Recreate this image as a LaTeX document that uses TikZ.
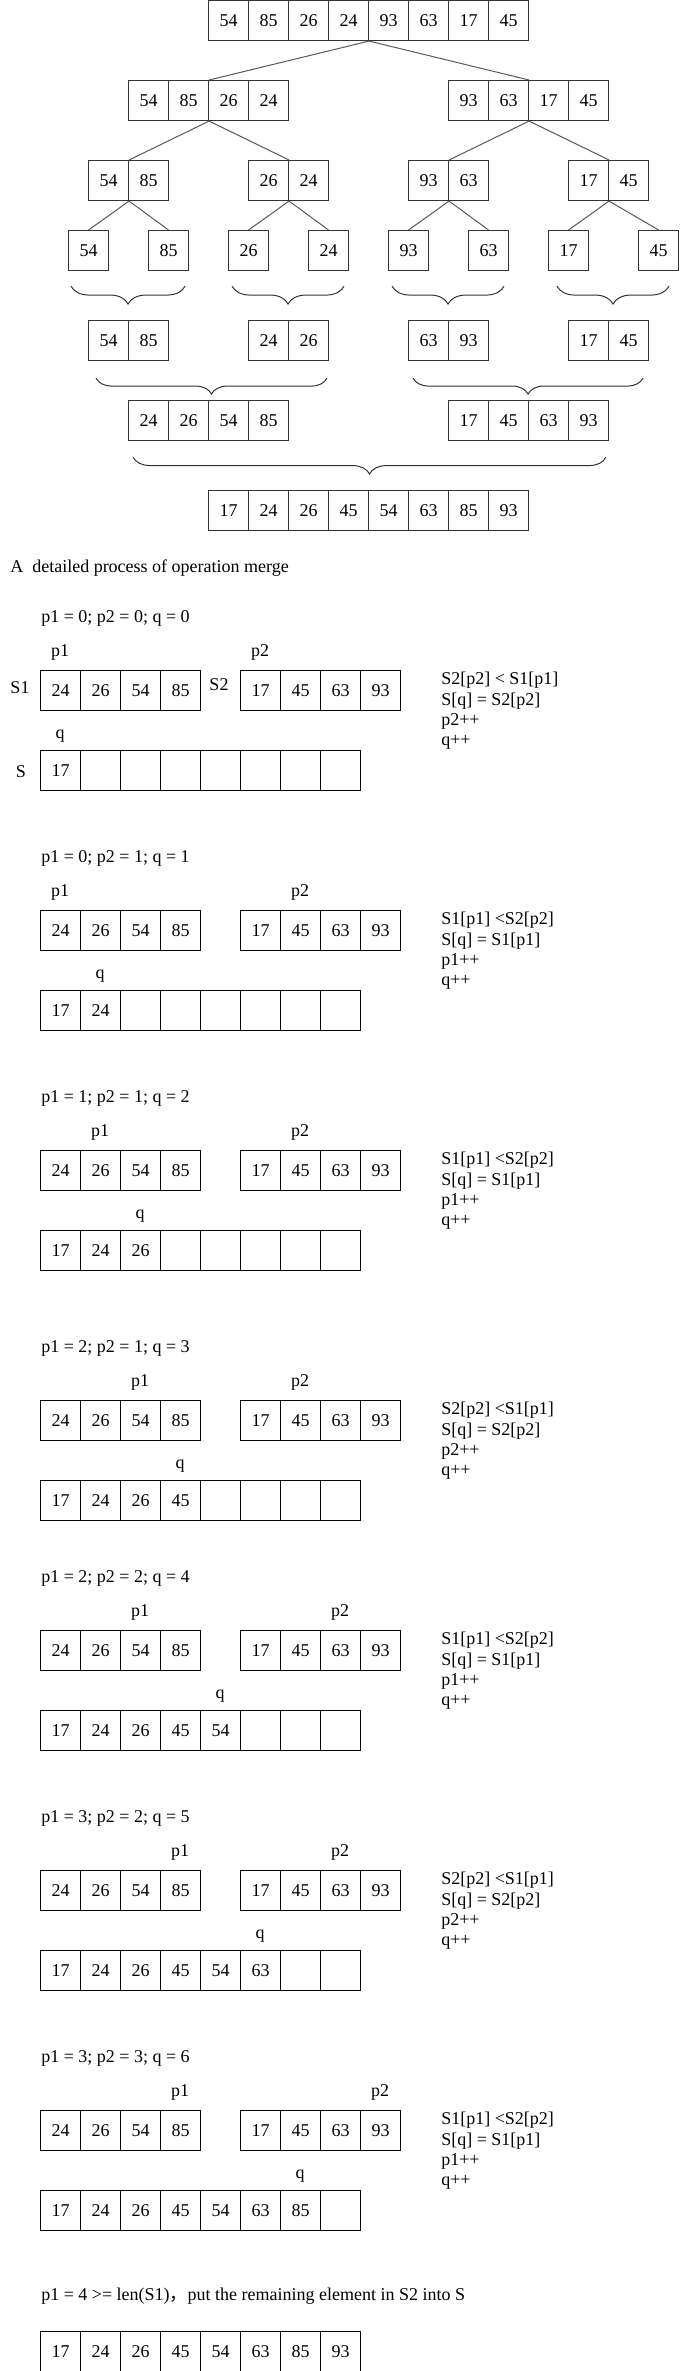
\documentclass[tikz,border=0pt]{standalone}
\usepackage{fontspec}
\setmainfont{Liberation Serif}
\newfontfamily\cjkfont{Noto Sans CJK SC}
\usetikzlibrary{decorations.pathreplacing}

\begin{document}
\begin{tikzpicture}[x=0.75pt, y=-0.75pt,
font=\fontsize{13.5}{16}\selectfont,
cell/.style = {draw, line width=0.85pt, minimum width=30pt, minimum height=30pt, inner sep=0, anchor=north west},
treecell/.style = {cell, draw=black!80, line width=0.8pt},
word/.style = {inner sep=0, anchor=base west},
pointer/.style = {inner sep=0, anchor=base},
branch/.style = {draw=black!65, line width=0.75pt},
merge/.style = {draw=black!80, line width=0.75pt, decorate, decoration={brace, mirror, amplitude=#1}}]
\useasboundingbox (0,0) rectangle (679,2371);

% splitting
\foreach \v [count=\k] in {54,85,26,24,93,63,17,45}
	\node[treecell] (root\k) at ({208+40*(\k-1)},0) {\v};
\foreach \v [count=\k] in {54,85,26,24}
	\node[treecell] (lefthalf\k) at ({128+40*(\k-1)},80) {\v};
\foreach \v [count=\k] in {93,63,17,45}
	\node[treecell] (righthalf\k) at ({448+40*(\k-1)},80) {\v};
\foreach \v [count=\k] in {54,85} \node[treecell] (pairone\k) at ({88+40*(\k-1)},160) {\v};
\foreach \v [count=\k] in {26,24} \node[treecell] (pairtwo\k) at ({248+40*(\k-1)},160) {\v};
\foreach \v [count=\k] in {93,63} \node[treecell] (pairthree\k) at ({408+40*(\k-1)},160) {\v};
\foreach \v [count=\k] in {17,45} \node[treecell] (pairfour\k) at ({568+40*(\k-1)},160) {\v};
\foreach \v/\x [count=\k] in {54/68,85/148,26/228,24/308,93/388,63/468,17/548,45/638}
	\node[treecell] (leaf\k) at (\x,230) {\v};

\draw[branch] (root4.south east) -- (lefthalf2.north east);
\draw[branch] (root4.south east) -- (righthalf2.north east);
\draw[branch] (lefthalf2.south east) -- (pairone1.north east);
\draw[branch] (lefthalf2.south east) -- (pairtwo1.north east);
\draw[branch] (righthalf2.south east) -- (pairthree1.north east);
\draw[branch] (righthalf2.south east) -- (pairfour1.north east);
\draw[branch] (pairone1.south east) -- (leaf1.north);
\draw[branch] (pairone1.south east) -- (leaf2.north);
\draw[branch] (pairtwo1.south east) -- (leaf3.north);
\draw[branch] (pairtwo1.south east) -- (leaf4.north);
\draw[branch] (pairthree1.south east) -- (leaf5.north);
\draw[branch] (pairthree1.south east) -- (leaf6.north);
\draw[branch] (pairfour1.south east) -- (leaf7.north);
\draw[branch] (pairfour1.south east) -- (leaf8.north);

% merging
\draw[merge=13.5pt] ([shift={(3,15)}]leaf1.south west) -- ([shift={(-4,15)}]leaf2.south east);
\draw[merge=13.5pt] ([shift={(4,15)}]leaf3.south west) -- ([shift={(-5,15)}]leaf4.south east);
\draw[merge=13.5pt] ([shift={(4,15)}]leaf5.south west) -- ([shift={(-5,15)}]leaf6.south east);
\draw[merge=13.5pt] ([shift={(9,15)}]leaf7.south west) -- ([shift={(-10,15)}]leaf8.south east);
\foreach \v [count=\k] in {54,85} \node[treecell] (sortedone\k) at ({88+40*(\k-1)},320) {\v};
\foreach \v [count=\k] in {24,26} \node[treecell] (sortedtwo\k) at ({248+40*(\k-1)},320) {\v};
\foreach \v [count=\k] in {63,93} \node[treecell] (sortedthree\k) at ({408+40*(\k-1)},320) {\v};
\foreach \v [count=\k] in {17,45} \node[treecell] (sortedfour\k) at ({568+40*(\k-1)},320) {\v};
\draw[merge=12pt] ([shift={(8,17)}]sortedone1.south west) -- ([shift={(-2,17)}]sortedtwo2.south east);
\draw[merge=12pt] ([shift={(5,17)}]sortedthree1.south west) -- ([shift={(-6,17)}]sortedfour2.south east);
\foreach \v [count=\k] in {24,26,54,85}
	\node[treecell] (sortedleft\k) at ({128+40*(\k-1)},400) {\v};
\foreach \v [count=\k] in {17,45,63,93}
	\node[treecell] (sortedright\k) at ({448+40*(\k-1)},400) {\v};
\draw[merge=12.75pt] ([shift={(5,16)}]sortedleft1.south west) -- ([shift={(-3,16)}]sortedright4.south east);
\foreach \v [count=\k] in {17,24,26,45,54,63,85,93}
	\node[treecell] (sortedall\k) at ({208+40*(\k-1)},490) {\v};

% operation merge, step by step
\node[word] (title) at (10,572) {A\ \ detailed process of operation merge};
\foreach \stepy/\pa/\pb/\pq/\hdr/\noteone/\notetwo/\notethree [count=\s] in {
	670/0/0/0/{p1 = 0; p2 = 0; q = 0}/{S2[p2] < S1[p1]}/{S[q] = S2[p2]}/{p2++},
	910/0/1/1/{p1 = 0; p2 = 1; q = 1}/{S1[p1] <S2[p2]}/{S[q] = S1[p1]}/{p1++},
	1150/1/1/2/{p1 = 1; p2 = 1; q = 2}/{S1[p1] <S2[p2]}/{S[q] = S1[p1]}/{p1++},
	1400/2/1/3/{p1 = 2; p2 = 1; q = 3}/{S2[p2] <S1[p1]}/{S[q] = S2[p2]}/{p2++},
	1630/2/2/4/{p1 = 2; p2 = 2; q = 4}/{S1[p1] <S2[p2]}/{S[q] = S1[p1]}/{p1++},
	1870/3/2/5/{p1 = 3; p2 = 2; q = 5}/{S2[p2] <S1[p1]}/{S[q] = S2[p2]}/{p2++},
	2110/3/3/6/{p1 = 3; p2 = 3; q = 6}/{S1[p1] <S2[p2]}/{S[q] = S1[p1]}/{p1++}} {
	\node[word] (header\s) at (41,{\stepy-48}) {\hdr};
	\foreach \v [count=\k] in {24,26,54,85}
		\node[cell] (sonecell\s\k) at ({40+40*(\k-1)},\stepy) {\v};
	\foreach \v [count=\k] in {17,45,63,93}
		\node[cell] (stwocell\s\k) at ({240+40*(\k-1)},\stepy) {\v};
	\foreach \v [count=\k] in {17,24,26,45,54,63,85,93}
		\node[cell] (scell\s\k) at ({40+40*(\k-1)},{\stepy+80}) {\ifnum\k>\numexpr\pq+1\relax\else\v\fi};
	\node[pointer] (ponelabel\s) at ({20+40*(\pa+1)},{\stepy-14}) {p1};
	\node[pointer] (ptwolabel\s) at ({220+40*(\pb+1)},{\stepy-14}) {p2};
	\node[pointer] (qlabel\s) at ({20+40*(\pq+1)},{\stepy+68}) {q};
	\node[word] (ruleone\s) at (441,{\stepy+14}) {\noteone};
	\node[word] (ruletwo\s) at (441,{\stepy+35}) {\notetwo};
	\node[word] (rulethree\s) at (441,{\stepy+55}) {\notethree};
	\node[word] (rulefour\s) at (441,{\stepy+75}) {q++};
}
\node[pointer] (sonename) at (20,693) {S1};
\node[pointer] (stwoname) at (219,690) {S2};
\node[pointer] (sname) at (21,777) {S};

\node[word] (lastnote) at (41,2300) {p1 = 4 >= len(S1){\cjkfont ，}put the remaining element in S2 into S};
\foreach \v [count=\k] in {17,24,26,45,54,63,85,93}
	\node[cell] (result\k) at ({40+40*(\k-1)},2331) {\v};
\end{tikzpicture}
\end{document}
